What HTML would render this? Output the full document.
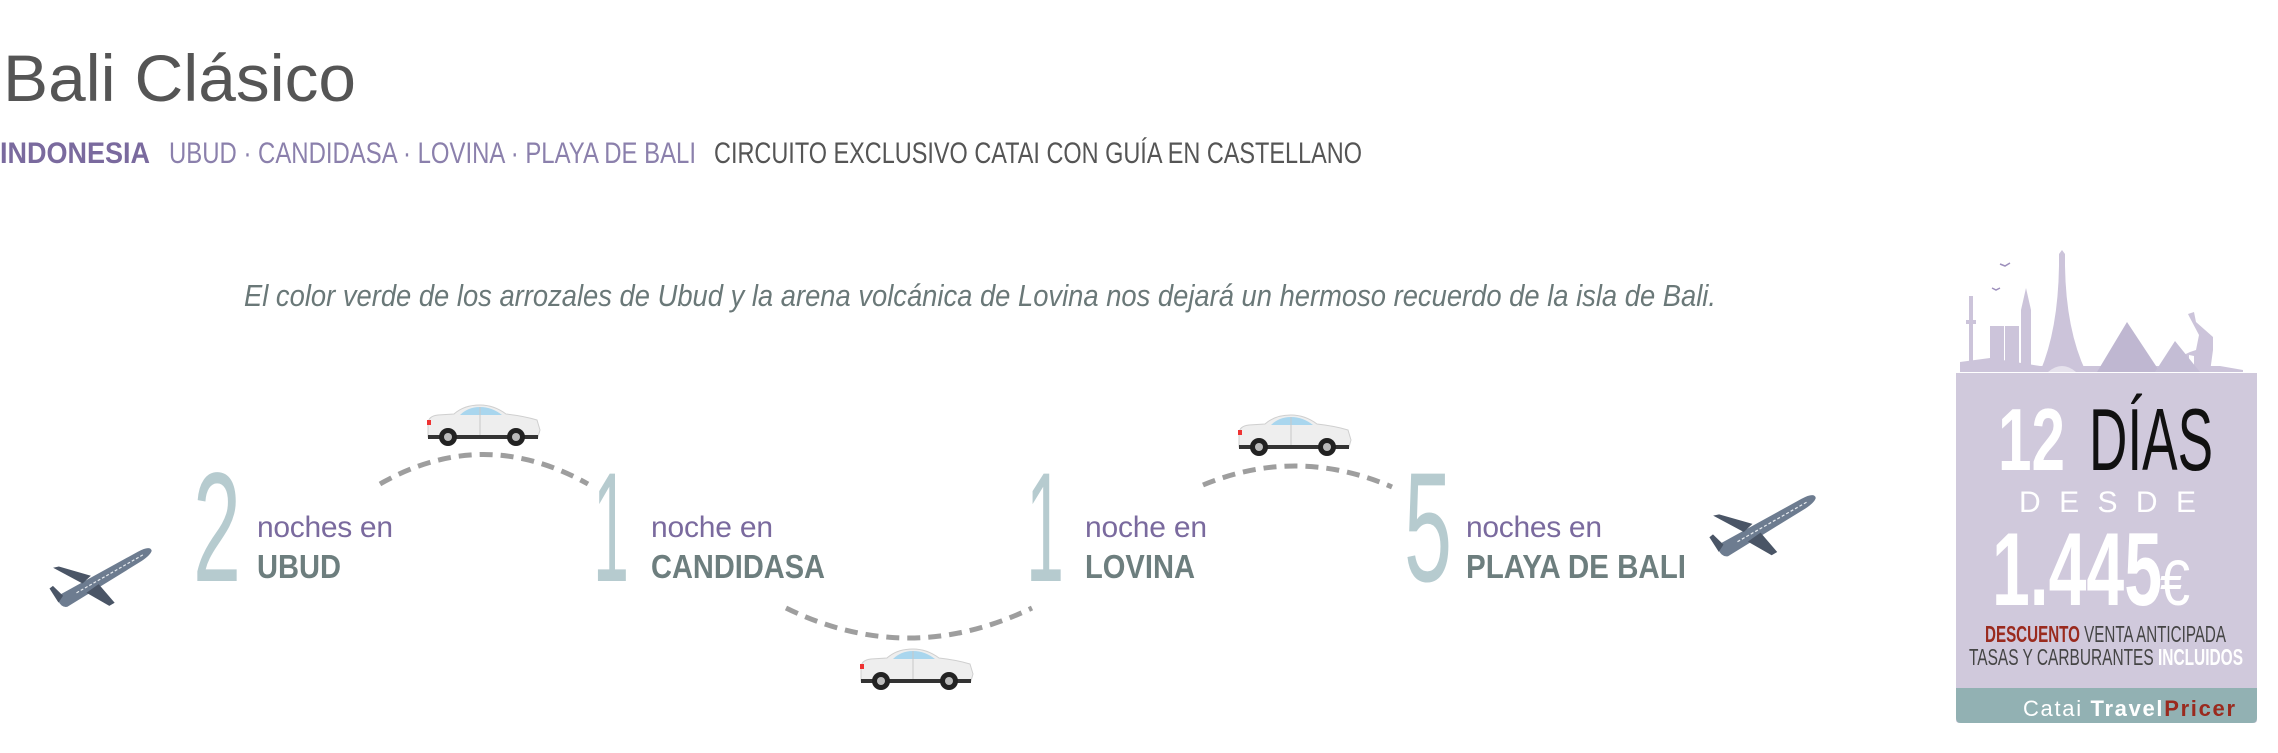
<!DOCTYPE html>
<html><head><meta charset="utf-8"><style>
html,body{margin:0;padding:0;background:#fff;}
svg{display:block;}
text{font-family:"Liberation Sans Narrow","Liberation Sans",sans-serif;}
</style></head><body>
<svg width="2278" height="753" viewBox="0 0 2278 753" xmlns="http://www.w3.org/2000/svg">
<defs>
<g id="car">
  <path d="M4,20 Q4,12 14,11 L30,10 Q40,1 56,1 Q70,1 82,10 Q100,12 113,16 L116,26 L114,33 L4,33 Z" fill="#eeeeee" stroke="#cfcfcf" stroke-width="1"/>
  <path d="M36,11 Q44,3 56,3 Q68,3 78,11 Z" fill="#a9d6ee"/>
  <line x1="56" y1="3" x2="56" y2="32" stroke="#c8c8c8"/>
  <rect x="3" y="16" width="4" height="5" fill="#e33"/>
  <rect x="4" y="31" width="110" height="4" fill="#333"/>
  <circle cx="24" cy="33" r="9" fill="#222"/><circle cx="24" cy="33" r="4" fill="#bbb"/>
  <circle cx="92" cy="33" r="9" fill="#222"/><circle cx="92" cy="33" r="4" fill="#bbb"/>
</g>
<g id="plane">
  <path d="M0,30 Q-4,26 4,24 L90,-2 Q104,-6 104,0 Q102,4 92,8 L8,38 Q2,38 0,30 Z" fill="#6d7c90"/>
  <path d="M38,12 L8,-4 L2,-4 L28,18 Z" fill="#4a5566"/>
  <path d="M44,22 L56,44 L50,46 L30,28 Z" fill="#4a5566"/>
  <path d="M6,26 L-2,14 L-6,16 L0,32 Z" fill="#4a5566"/>
  <line x1="20" y1="26" x2="95" y2="2" stroke="#e8ecf0" stroke-width="1.2" stroke-dasharray="3,2"/>
</g>
</defs>

<!-- Header -->
<text x="3" y="101" font-family="Liberation Sans, sans-serif" font-size="66" fill="#555" textLength="353" lengthAdjust="spacingAndGlyphs" style="font-family:'Liberation Sans',sans-serif">Bali Clásico</text>
<text x="0" y="163" font-size="30" font-weight="bold" fill="#7a6a9e" textLength="150" lengthAdjust="spacingAndGlyphs">INDONESIA</text>
<text x="169" y="163" font-size="30" fill="#8b80ac" textLength="527" lengthAdjust="spacingAndGlyphs">UBUD · CANDIDASA · LOVINA · PLAYA DE BALI</text>
<text x="714" y="163" font-size="30" fill="#555" textLength="648" lengthAdjust="spacingAndGlyphs">CIRCUITO EXCLUSIVO CATAI CON GUÍA EN CASTELLANO</text>

<text x="244" y="306" font-size="31" font-style="italic" fill="#6a7878" textLength="1472" lengthAdjust="spacingAndGlyphs">El color verde de los arrozales de Ubud y la arena volcánica de Lovina nos dejará un hermoso recuerdo de la isla de Bali.</text>

<!-- planes -->
<use href="#plane" transform="translate(52,572) rotate(-12) scale(0.98)"/>
<use href="#plane" transform="translate(1712,520) rotate(-12) scale(1.02)"/>

<!-- arcs -->
<g fill="none" stroke="#9e9e9e" stroke-width="5" stroke-dasharray="13,8">
<path d="M380,484 Q483,425 588,484"/>
<path d="M786,608 Q908,668 1032,608"/>
<path d="M1203,485 Q1297,446 1392,487"/>
</g>

<!-- cars -->
<use href="#car" transform="translate(424,404)"/>
<use href="#car" transform="translate(857,648)"/>
<use href="#car" transform="translate(1235,414)"/>

<!-- numbers -->
<g fill="#b6cbcf" font-size="156">
<text x="193" y="581" textLength="48" lengthAdjust="spacingAndGlyphs">2</text>
<text x="593" y="581" textLength="36" lengthAdjust="spacingAndGlyphs">1</text>
<text x="1026" y="581" textLength="38" lengthAdjust="spacingAndGlyphs">1</text>
<text x="1404" y="581" textLength="48" lengthAdjust="spacingAndGlyphs">5</text>
</g>
<g fill="#7a6a9e" font-size="30">
<text x="257" y="537" textLength="136" lengthAdjust="spacing">noches en</text>
<text x="651" y="537" textLength="122" lengthAdjust="spacing">noche en</text>
<text x="1085" y="537" textLength="122" lengthAdjust="spacing">noche en</text>
<text x="1466" y="537" textLength="136" lengthAdjust="spacing">noches en</text>
</g>
<g fill="#6d7e7e" font-size="33" font-weight="bold">
<text x="257" y="578" textLength="84" lengthAdjust="spacingAndGlyphs">UBUD</text>
<text x="651" y="578" textLength="174" lengthAdjust="spacingAndGlyphs">CANDIDASA</text>
<text x="1085" y="578" textLength="110" lengthAdjust="spacingAndGlyphs">LOVINA</text>
<text x="1466" y="578" textLength="220" lengthAdjust="spacingAndGlyphs">PLAYA DE BALI</text>
</g>

<!-- price box -->
<g fill="#ccc4da">
<rect x="1969" y="296" width="4" height="70"/>
<rect x="1966" y="320" width="10" height="4"/>
<rect x="1990" y="326" width="14" height="42"/>
<rect x="2005" y="326" width="14" height="42"/>
<path d="M2021,368 L2021,310 L2026,288 L2031,310 L2031,368 Z"/>
<path d="M2040,372 Q2058,330 2059,266 L2059,254 L2062,250 L2065,254 L2065,266 Q2066,330 2086,372 Z"/>
<path d="M1960,372 L1960,362 L1990,358 L2040,366 L2220,366 L2243,370 L2243,372 Z"/>
<path d="M2148,372 L2189,372 L2189,355 L2194,356 L2194,372 L2210,372 L2213,350 L2213,337 L2196,322 L2194,312 L2188,314 L2190,318 L2199,335 L2196,350 L2190,352 Z"/>
</g>
<path d="M2097,372 L2127,322 L2160,372 Z" fill="#bfb7d1"/>
<path d="M2155,372 L2175,341 L2200,372 Z" fill="#c4bdd5"/>
<path d="M2000,264 l5,2 l5,-3 M1992,288 l4,2 l4,-2" stroke="#9d8fbc" stroke-width="1.5" fill="none"/>
<path d="M2048,372 Q2062,360 2076,372 Z" fill="#fff" opacity="0.5"/>
<path d="M1956,373 L2257,373 L2257,720 Q2257,723 2253,723 L1960,723 Q1956,723 1956,720 Z" fill="#d0c9dc"/>
<path d="M1956,688 L2257,688 L2257,718 Q2257,723 2252,723 L1961,723 Q1956,723 1956,718 Z" fill="#92b1b3"/>

<text x="1998" y="470" font-size="88" font-weight="bold" fill="#fff" textLength="67" lengthAdjust="spacingAndGlyphs">12</text>
<text x="2089" y="470" font-size="88" fill="#111" textLength="124" lengthAdjust="spacingAndGlyphs">DÍAS</text>
<text x="2019" y="512" font-size="30" fill="#fff" textLength="177" lengthAdjust="spacing">DESDE</text>
<text x="1992" y="605" font-size="104" font-weight="bold" fill="#fff" textLength="170" lengthAdjust="spacingAndGlyphs">1.445</text>
<text x="2160" y="605" font-size="64" fill="#fff" textLength="30" lengthAdjust="spacingAndGlyphs">€</text>
<text x="1985" y="642" font-size="23" fill="#444" textLength="241" lengthAdjust="spacingAndGlyphs"><tspan fill="#9a2a1e" font-weight="bold">DESCUENTO</tspan> VENTA ANTICIPADA</text>
<text x="1969" y="665" font-size="23" fill="#444" textLength="274" lengthAdjust="spacingAndGlyphs">TASAS Y CARBURANTES <tspan fill="#fff" font-weight="bold">INCLUIDOS</tspan></text>
<text x="2023" y="716" font-size="22" fill="#fff" textLength="212" lengthAdjust="spacing">Catai <tspan font-weight="bold">Travel</tspan><tspan font-weight="bold" fill="#9a2a1e">Pricer</tspan></text>
</svg>
</body></html>
